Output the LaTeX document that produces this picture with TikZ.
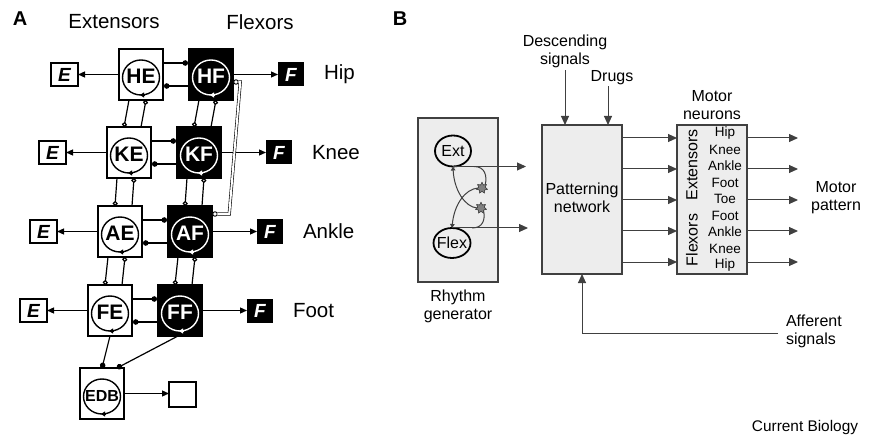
\documentclass[tikz,border=0pt]{standalone}
\usepackage{fontspec}
\setmainfont{Liberation Sans}
\usetikzlibrary{arrows.meta,shapes.geometric,calc}
\definecolor{bfill}{HTML}{EDEDED}
\definecolor{bline}{HTML}{404040}
\begin{document}
\begin{tikzpicture}[x=1pt,y=-1pt,
  every node/.style={inner sep=0pt, outer sep=0pt},
  ebox/.style={draw=black, line width=1.5pt, fill=white, minimum width=44pt, minimum height=51pt},
  fbox/.style={ebox, fill=black},
  eout/.style={draw=black, line width=1.6pt, fill=white, minimum width=27pt, minimum height=23pt, font=\fontsize{19}{19}\selectfont\bfseries\itshape},
  fout/.style={fill=black, text=white, minimum width=26pt, minimum height=24pt, font=\fontsize{19}{19}\selectfont\bfseries\itshape},
  ctext/.style={font=\fontsize{21}{21}\selectfont\bfseries},
  lbl/.style={font=\fontsize{20.5}{24}\selectfont},
  ring/.style={line width=1.4pt},
  conn/.style={line width=1.2pt},
  arr/.style={conn, -{Triangle[length=7pt,width=6pt]}},
  dotend/.style={conn, -{Circle[length=5.5pt]}},
  ringend/.style={conn, -{Circle[open, length=5pt, width=5pt]}},
  smallring/.style={circle, draw=black, line width=0.9pt, fill=white, minimum size=4.5pt},
  dbl/.style={draw=black, line width=0.6pt, double=white, double distance=2pt},
  bbox/.style={draw=bline, line width=1.1pt, fill=bfill},
  fB/.style={font=\fontsize{16}{18}\selectfont, align=center},
  fM/.style={font=\fontsize{13.5}{15}\selectfont},
  bl/.style={draw=bline, line width=1pt},
  barr/.style={draw=bline, line width=1pt, -{Triangle[length=9pt,width=8pt]}},
  syn/.style={-{Triangle[length=4pt,width=4.5pt]}},
  neur/.style={ellipse, draw=black, line width=1.8pt},
  starsyn/.style={star, star points=7, star point ratio=1.7, minimum size=11pt, fill=black!50, draw=black!75, line width=0.5pt}
]
\useasboundingbox (0,0) rectangle (869,438);

% ---------------- Panel A ----------------
\node[font=\fontsize{20}{20}\selectfont\bfseries] (pA) at (20,19) {A};
\node[lbl] (tE) at (114,22) {Extensors};
\node[lbl] (tF) at (260,22) {Flexors};

\foreach \p/\xl/\yt/\lab in {H/119/49/Hip,K/107/127/Knee,A/98/206/Ankle,F/88/285/Foot}{
  \node[ebox,anchor=north west] (\p E) at (\xl,\yt) {};
  \node[fbox,anchor=north west] (\p F) at ({\xl+70},\yt) {};
  \draw[ring] ([yshift=-3pt]\p E.center) ellipse [x radius=18.5pt,y radius=17.5pt];
  \draw[ring,white] ([yshift=-3pt]\p F.center) ellipse [x radius=18.5pt,y radius=17.5pt];
  \draw[ring,-{Triangle[length=4pt,width=5pt]}] ([xshift=3pt,yshift=-20.5pt]\p E.center) -- ++(-4,0);
  \draw[ring,white,-{Triangle[length=4pt,width=5pt]}] ([xshift=3pt,yshift=-20.5pt]\p F.center) -- ++(-4,0);
  \node[ctext] (\p Et) at ([yshift=-2pt]\p E.center) {\p E};
  \node[ctext,text=white] (\p Ft) at ([yshift=-2pt]\p F.center) {\p F};
  \node[eout,anchor=east] (\p Eo) at ({\xl-41},{\yt+25.5}) {E};
  \node[fout,anchor=west] (\p Fo) at ({\xl+159},{\yt+25.5}) {F};
  \node[lbl,anchor=west] (\p L) at ([xshift=20pt]\p Fo.east) {\lab};
  \draw[arr] (\p E.west) -- (\p Eo.east);
  \draw[arr] (\p F.east) -- (\p Fo.west);
  \draw[dotend] ([yshift=-14pt]\p E.north east) -- ([xshift=-1pt,yshift=-14pt]\p F.north west);
  \draw[dotend] ([yshift=-37pt]\p F.north west) -- ([xshift=1pt,yshift=-37pt]\p E.north east);
}

\foreach \ra/\rb in {H/K,K/A,A/F}{
  \foreach \cc in {E,F}{
    \draw[ringend] ([xshift=10pt]\ra\cc.south west) -- ([xshift=17pt]\rb\cc.north west);
    \draw[ringend] ([xshift=34pt]\rb\cc.north west) -- ([xshift=27pt]\ra\cc.south west);
  }
}

% long double connection HF -> AF
\node[smallring] (m1) at ([xshift=3pt,yshift=-33pt]HF.north east) {};
\node[smallring] (m2) at ([xshift=3pt,yshift=-8pt]AF.north east) {};
\draw[dbl] (m1.east) -- ($(m1.east)+(2,0)$) -- ($(m2.east)+(12,0)$) -- (m2.east);

% EDB
\node[ebox,anchor=north west] (EDB) at (80,368) {};
\draw[ring] ([yshift=-3pt]EDB.center) ellipse [x radius=18.5pt,y radius=17.5pt];
\draw[ring,-{Triangle[length=4pt,width=5pt]}] ([xshift=3pt,yshift=-20.5pt]EDB.center) -- ++(-4,0);
\node[font=\fontsize{16}{16}\selectfont\bfseries] (EDBt) at ([yshift=-2pt]EDB.center) {EDB};
\node[eout,minimum height=25pt,anchor=north west] (EDBo) at (169,382) {};
\draw[arr] (EDB.east) -- (EDB.east -| EDBo.west);
\draw[dotend] (FE.south) -- (EDB.north);
\draw[dotend] ([xshift=-2pt]FF.south) -- ([xshift=15pt]EDB.north);

% ---------------- Panel B ----------------
\node[font=\fontsize{20}{20}\selectfont\bfseries] (pB) at (400,19) {B};

\node[bbox,minimum width=80pt,minimum height=164pt,anchor=north west] (RG) at (418,118) {};
\node[fB] (RGt) at (458,306) {Rhythm\\generator};

\node[neur,minimum width=36pt,minimum height=31pt] (Ext) at (453,151) {};
\node[fB] (Extt) at (Ext.center) {Ext};
\node[neur,minimum width=37pt,minimum height=30pt] (Flex) at (452,243) {};
\node[fB] (Flext) at (Flex.center) {Flex};

\node[bbox,minimum width=80pt,minimum height=149pt,anchor=north west] (PN) at (542,125) {};
\node[fB] (PNt) at (582,198) {Patterning\\network};

\node[bbox,minimum width=70pt,minimum height=149pt,anchor=north west] (MN) at (677,125) {};

\draw[barr] (Ext.south) -- (Ext.south -| PN.west) [shorten >=16pt];
\draw[barr] (Flex.north) -- (Flex.north -| PN.west) [shorten >=14pt];
\coordinate (b1) at ($(Ext.south)+(21,0)$);
\coordinate (b2) at ($(Flex.north)+(20,0)$);
\node[starsyn] (S1) at (482,188) {};
\node[starsyn] (S2) at (481,208) {};
\draw[bl] (b1) .. controls +(11,0) and +(2,-9) .. (S1.north east);
\draw[bl] (b2) .. controls +(11,0) and +(2,9) .. (S2.south east);
\draw[bl,syn] (S1.west) .. controls (465,189) and (454,205) .. (Flex.north);
\draw[bl,syn] (S2.west) .. controls (465,207) and (454,190) .. (Ext.south);
\node[starsyn] at (S1) {};
\node[starsyn] at (S2) {};

\node[fB] (DS) at (565,51) {Descending\\signals};
\node[fB] (Dr) at (612,78) {Drugs};
\coordinate (drx) at ([xshift=-4pt,yshift=-1pt]Dr.south);
\draw[barr] ([yshift=-3pt]DS.south) -- (DS.south |- PN.north);
\draw[barr] (drx) -- (drx |- PN.north);

\foreach \dy in {13,44,75,106,137}{
  \draw[barr] ([yshift=-\dy pt]PN.north east) -- ([yshift=-\dy pt]MN.north west);
  \draw[barr] ([yshift=-\dy pt]MN.north east) -- ++(51,0);
}

\node[fB] (MNt) at (712,105) {Motor\\neurons};
\node[fB] (MP) at (836,198) {Motor\\pattern};
\node[fB,rotate=90] (MNe) at (692,165) {Extensors};
\node[fB,rotate=90] (MNf) at (692,240) {Flexors};
\foreach \t [count=\i from 0] in {Hip,Knee,Ankle,Foot,Toe,Foot,Ankle,Knee,Hip}{
  \node[fM] (ml\i) at (725,{133+16.5*\i}) {\t};
}

\node[fB,align=left,anchor=west] (AS) at (786,331) {Afferent\\signals};
\draw[barr] ([xshift=-8pt,yshift=-2pt]AS.west) -| (PN.south);

\node[font=\fontsize{15.4}{17}\selectfont] (CB) at (805,428) {Current Biology};
\end{tikzpicture}
\end{document}
